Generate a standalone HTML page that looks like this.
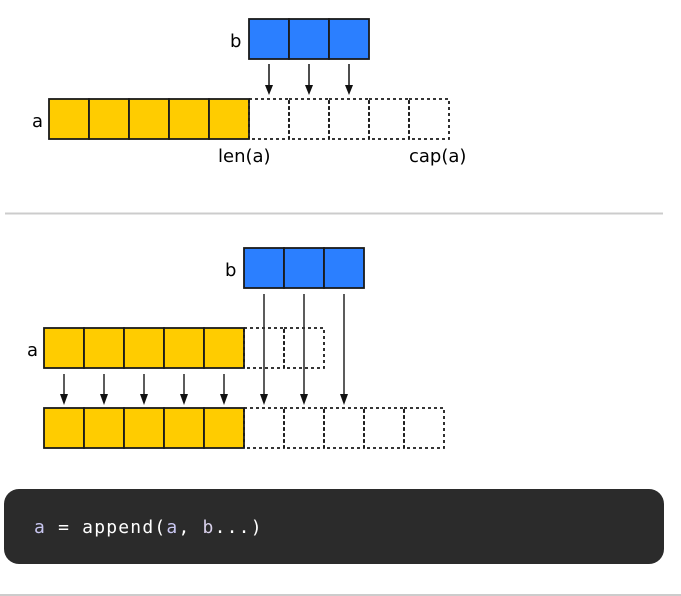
<!DOCTYPE html>
<html><head><meta charset="utf-8"><style>
html,body{margin:0;padding:0;background:#fff;width:681px;height:596px;overflow:hidden}
svg{display:block}
</style></head><body>
<svg width="681" height="596" xmlns="http://www.w3.org/2000/svg" font-family="DejaVu Sans, Liberation Sans, sans-serif">
<g stroke="#1a1a1a" stroke-width="1.8" fill="none">
<g fill="#2b7fff"><rect x="249" y="19" width="40" height="40"/><rect x="289" y="19" width="40" height="40"/><rect x="329" y="19" width="40" height="40"/></g>
<g fill="#ffcc00"><rect x="49" y="99" width="40" height="40"/><rect x="89" y="99" width="40" height="40"/><rect x="129" y="99" width="40" height="40"/><rect x="169" y="99" width="40" height="40"/><rect x="209" y="99" width="40" height="40"/></g>
<g stroke-dasharray="3,3"><rect x="249" y="99" width="40" height="40"/><rect x="289" y="99" width="40" height="40"/><rect x="329" y="99" width="40" height="40"/><rect x="369" y="99" width="40" height="40"/><rect x="409" y="99" width="40" height="40"/></g>
</g>
<g stroke="#222" stroke-width="1.6">
<line x1="269" y1="64" x2="269" y2="86"/><line x1="309" y1="64" x2="309" y2="86"/><line x1="349" y1="64" x2="349" y2="86"/>
</g>
<g fill="#111">
<path d="M265,85 L273,85 L269,95 Z"/><path d="M305,85 L313,85 L309,95 Z"/><path d="M345,85 L353,85 L349,95 Z"/>
</g>
<g font-size="18" fill="#000">
<text x="230" y="47">b</text><text x="32" y="127">a</text>
<text x="218" y="162">len(a)</text><text x="409" y="162">cap(a)</text>
<text x="225" y="276">b</text><text x="27" y="356">a</text>
</g>
<line x1="5" y1="213.5" x2="663" y2="213.5" stroke="#ccc" stroke-width="2"/>
<g stroke="#1a1a1a" stroke-width="1.8" fill="none">
<g fill="#2b7fff"><rect x="244" y="248" width="40" height="40"/><rect x="284" y="248" width="40" height="40"/><rect x="324" y="248" width="40" height="40"/></g>
<g fill="#ffcc00"><rect x="44" y="328" width="40" height="40"/><rect x="84" y="328" width="40" height="40"/><rect x="124" y="328" width="40" height="40"/><rect x="164" y="328" width="40" height="40"/><rect x="204" y="328" width="40" height="40"/></g>
<g stroke-dasharray="3,3"><rect x="244" y="328" width="40" height="40"/><rect x="284" y="328" width="40" height="40"/></g>
<g fill="#ffcc00"><rect x="44" y="408" width="40" height="40"/><rect x="84" y="408" width="40" height="40"/><rect x="124" y="408" width="40" height="40"/><rect x="164" y="408" width="40" height="40"/><rect x="204" y="408" width="40" height="40"/></g>
<g stroke-dasharray="3,3"><rect x="244" y="408" width="40" height="40"/><rect x="284" y="408" width="40" height="40"/><rect x="324" y="408" width="40" height="40"/><rect x="364" y="408" width="40" height="40"/><rect x="404" y="408" width="40" height="40"/></g>
</g>
<g stroke="#333" stroke-width="1.6">
<line x1="264" y1="294" x2="264" y2="395"/><line x1="304" y1="294" x2="304" y2="395"/><line x1="344" y1="294" x2="344" y2="395"/>
<line x1="64" y1="374" x2="64" y2="395"/><line x1="104" y1="374" x2="104" y2="395"/><line x1="144" y1="374" x2="144" y2="395"/><line x1="184" y1="374" x2="184" y2="395"/><line x1="224" y1="374" x2="224" y2="395"/>
</g>
<g fill="#111">
<path d="M260,394 L268,394 L264,405 Z"/><path d="M300,394 L308,394 L304,405 Z"/><path d="M340,394 L348,394 L344,405 Z"/>
<path d="M60,394 L68,394 L64,405 Z"/><path d="M100,394 L108,394 L104,405 Z"/><path d="M140,394 L148,394 L144,405 Z"/><path d="M180,394 L188,394 L184,405 Z"/><path d="M220,394 L228,394 L224,405 Z"/>
</g>
<rect x="4" y="489" width="660" height="75" rx="15" fill="#2b2b2b"/>
<text x="34" y="533" font-family="DejaVu Sans Mono, Liberation Mono, monospace" font-size="18" letter-spacing="1.2" fill="#ffffff"><tspan fill="#c8c6f0">a</tspan> = append(<tspan fill="#c8c6f0">a</tspan>, <tspan fill="#d8d0ea">b</tspan>...)</text>
<line x1="0" y1="595" x2="681" y2="595" stroke="#ccc" stroke-width="2"/>
</svg>
</body></html>
